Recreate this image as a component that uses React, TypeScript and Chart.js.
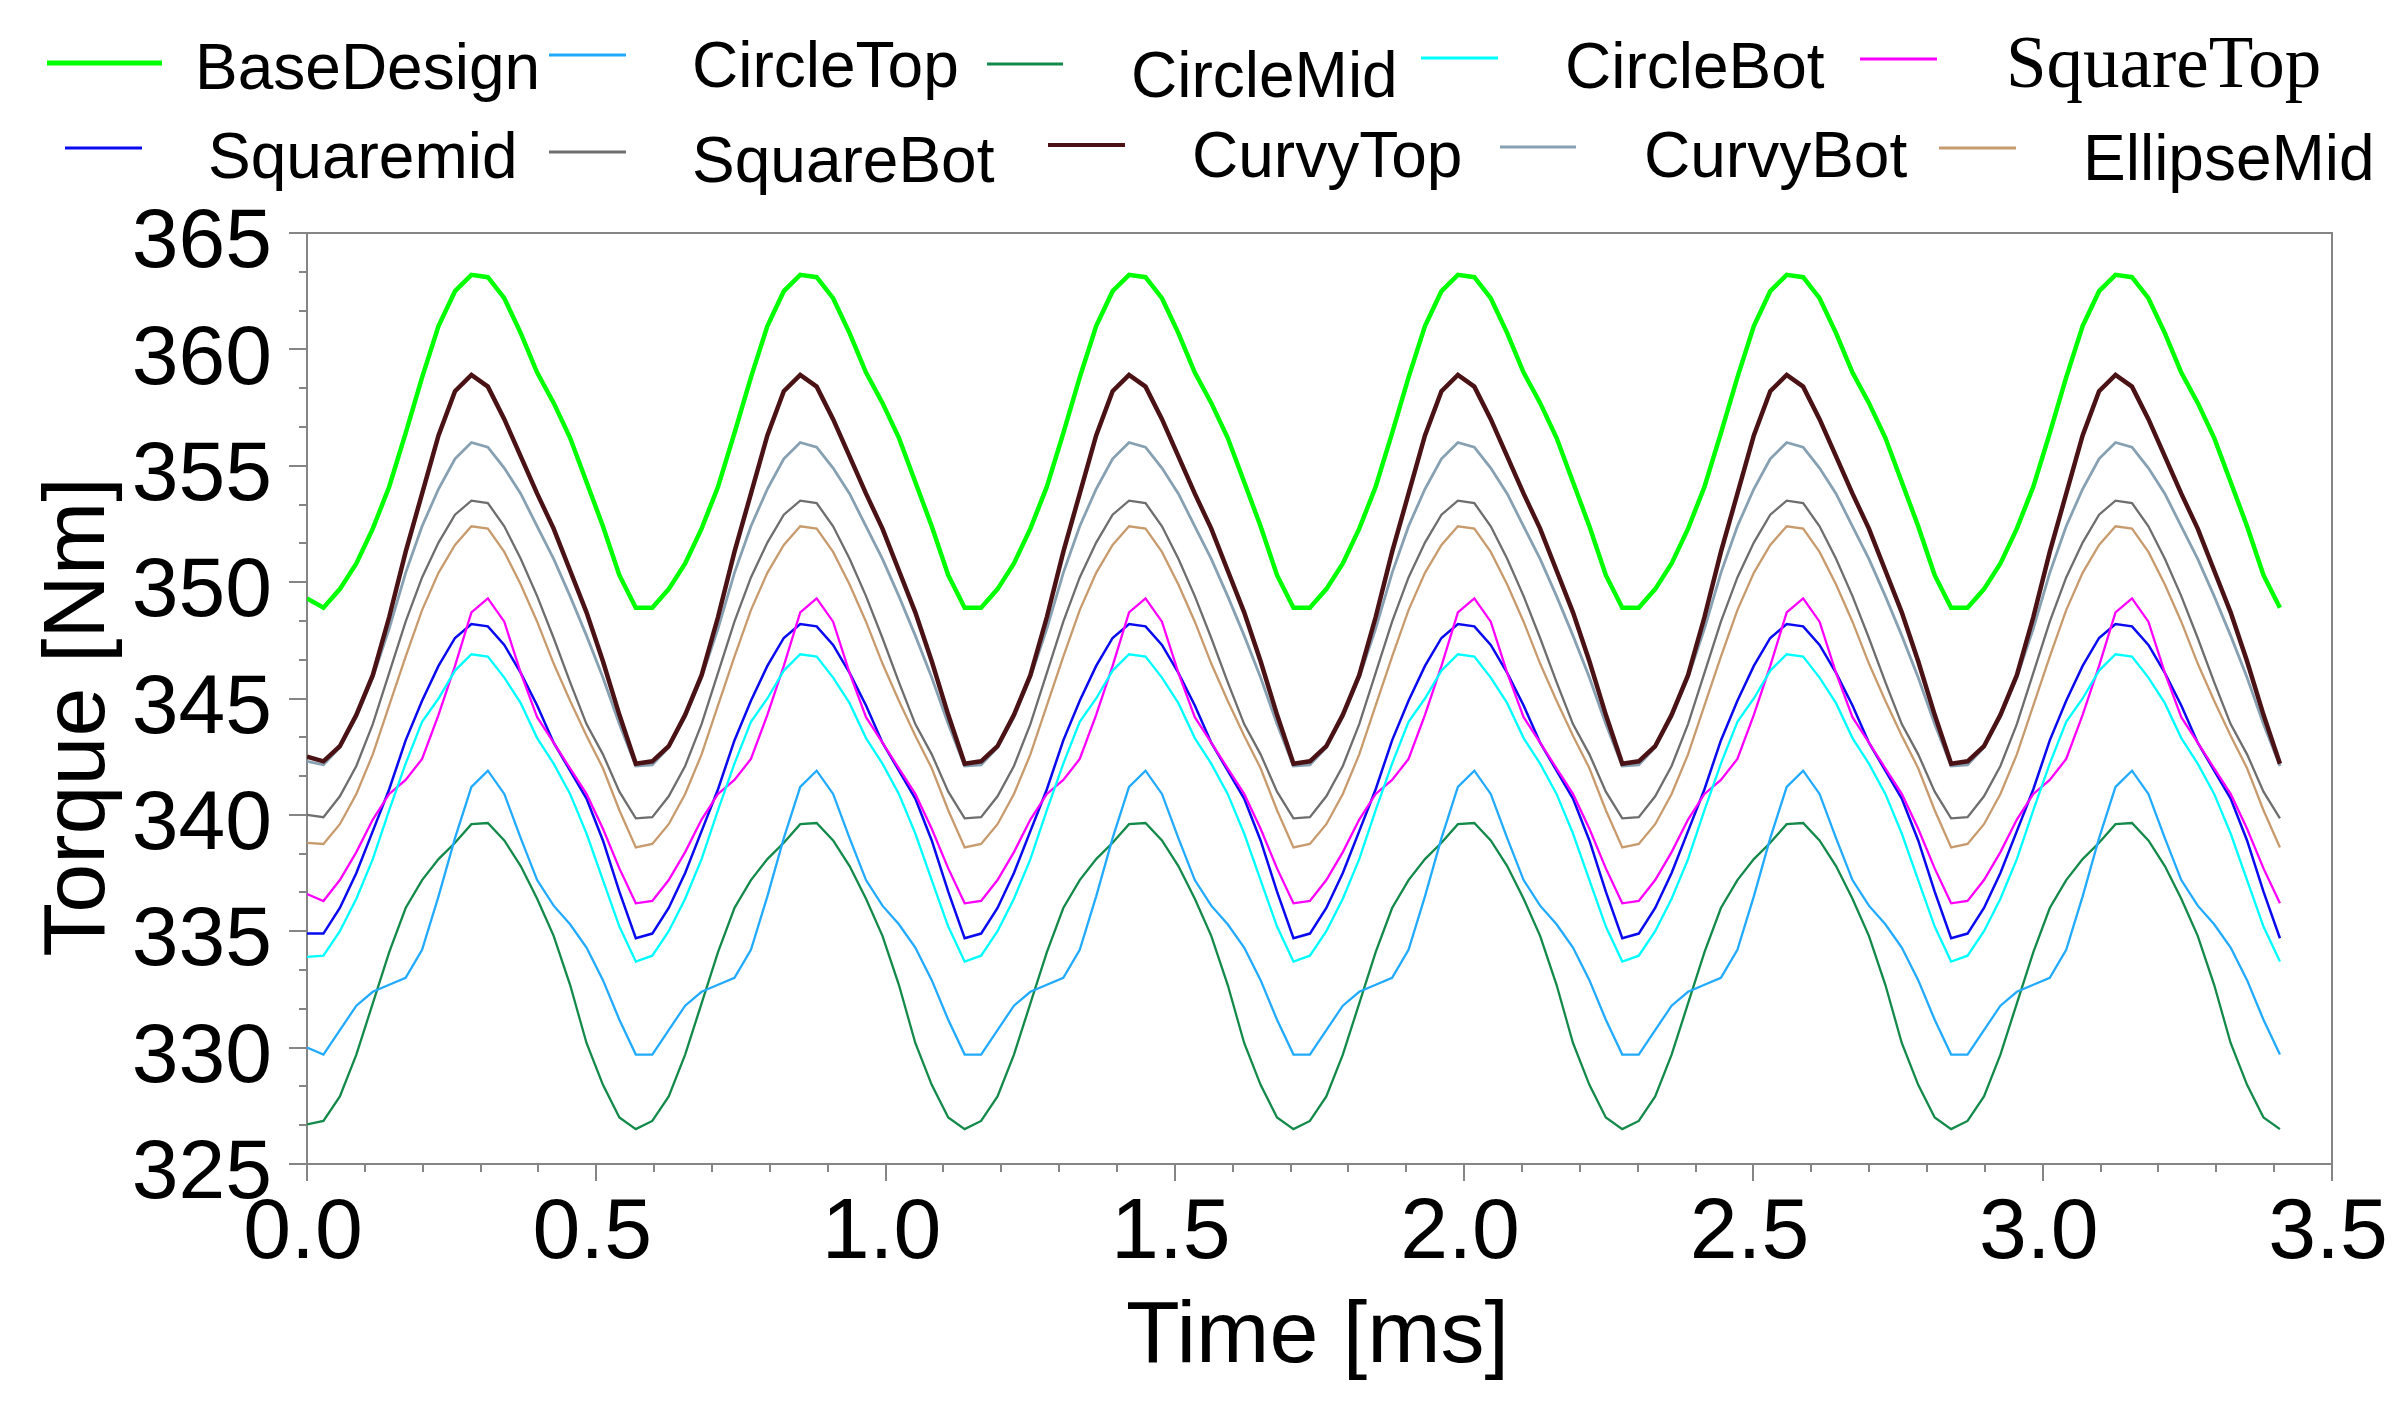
import React, { useEffect, useRef } from "react";
import { Chart, registerables } from "chart.js";

Chart.register(...registerables);

// ---------- data ----------
const TIME_MS = [
  0, 0.0284, 0.0568, 0.0853, 0.1137, 0.1421, 0.1705, 0.1989, 0.2273, 0.2558, 0.2842, 0.3126, 0.3410, 0.3694, 0.3978, 0.4263, 0.4547, 0.4831, 0.5115, 0.5399,
  0.5683, 0.5968, 0.6252, 0.6536, 0.6820, 0.7104, 0.7388, 0.7673, 0.7957, 0.8241, 0.8525, 0.8809, 0.9093, 0.9378, 0.9662, 0.9946, 1.0230, 1.0514, 1.0798, 1.1083,
  1.1367, 1.1651, 1.1935, 1.2219, 1.2503, 1.2788, 1.3072, 1.3356, 1.3640, 1.3924, 1.4208, 1.4493, 1.4777, 1.5061, 1.5345, 1.5629, 1.5913, 1.6198, 1.6482, 1.6766,
  1.7050, 1.7334, 1.7618, 1.7903, 1.8187, 1.8471, 1.8755, 1.9039, 1.9323, 1.9608, 1.9892, 2.0176, 2.0460, 2.0744, 2.1028, 2.1313, 2.1597, 2.1881, 2.2165, 2.2449,
  2.2733, 2.3018, 2.3302, 2.3586, 2.3870, 2.4154, 2.4438, 2.4723, 2.5007, 2.5291, 2.5575, 2.5859, 2.6143, 2.6428, 2.6712, 2.6996, 2.7280, 2.7564, 2.7848, 2.8133,
  2.8417, 2.8701, 2.8985, 2.9269, 2.9553, 2.9838, 3.0122, 3.0406, 3.0690, 3.0974, 3.1258, 3.1543, 3.1827, 3.2111, 3.2395, 3.2679, 3.2963, 3.3248, 3.3532, 3.3816,
  3.4100,
];

const BASE_DESIGN = [
  349.3,
  348.9, 349.7, 350.8, 352.3, 354.1, 356.4, 358.8, 361.0, 362.5, 363.2, 363.1, 362.2, 360.7, 359.0, 357.7, 356.2, 354.3, 352.4, 350.3, 348.9,
  348.9, 349.7, 350.8, 352.3, 354.1, 356.4, 358.8, 361.0, 362.5, 363.2, 363.1, 362.2, 360.7, 359.0, 357.7, 356.2, 354.3, 352.4, 350.3, 348.9,
  348.9, 349.7, 350.8, 352.3, 354.1, 356.4, 358.8, 361.0, 362.5, 363.2, 363.1, 362.2, 360.7, 359.0, 357.7, 356.2, 354.3, 352.4, 350.3, 348.9,
  348.9, 349.7, 350.8, 352.3, 354.1, 356.4, 358.8, 361.0, 362.5, 363.2, 363.1, 362.2, 360.7, 359.0, 357.7, 356.2, 354.3, 352.4, 350.3, 348.9,
  348.9, 349.7, 350.8, 352.3, 354.1, 356.4, 358.8, 361.0, 362.5, 363.2, 363.1, 362.2, 360.7, 359.0, 357.7, 356.2, 354.3, 352.4, 350.3, 348.9,
  348.9, 349.7, 350.8, 352.3, 354.1, 356.4, 358.8, 361.0, 362.5, 363.2, 363.1, 362.2, 360.7, 359.0, 357.7, 356.2, 354.3, 352.4, 350.3, 348.9,
];

const CIRCLE_TOP = [
  330.0,
  329.7, 330.75, 331.8, 332.4, 332.7, 333.0, 334.2, 336.5, 339.0, 341.2, 341.9, 340.9, 339.0, 337.2, 336.1, 335.3, 334.3, 332.9, 331.2, 329.7,
  329.7, 330.75, 331.8, 332.4, 332.7, 333.0, 334.2, 336.5, 339.0, 341.2, 341.9, 340.9, 339.0, 337.2, 336.1, 335.3, 334.3, 332.9, 331.2, 329.7,
  329.7, 330.75, 331.8, 332.4, 332.7, 333.0, 334.2, 336.5, 339.0, 341.2, 341.9, 340.9, 339.0, 337.2, 336.1, 335.3, 334.3, 332.9, 331.2, 329.7,
  329.7, 330.75, 331.8, 332.4, 332.7, 333.0, 334.2, 336.5, 339.0, 341.2, 341.9, 340.9, 339.0, 337.2, 336.1, 335.3, 334.3, 332.9, 331.2, 329.7,
  329.7, 330.75, 331.8, 332.4, 332.7, 333.0, 334.2, 336.5, 339.0, 341.2, 341.9, 340.9, 339.0, 337.2, 336.1, 335.3, 334.3, 332.9, 331.2, 329.7,
  329.7, 330.75, 331.8, 332.4, 332.7, 333.0, 334.2, 336.5, 339.0, 341.2, 341.9, 340.9, 339.0, 337.2, 336.1, 335.3, 334.3, 332.9, 331.2, 329.7,
];

const CIRCLE_MID = [
  326.7,
  326.85, 327.9, 329.7, 331.9, 334.1, 336.0, 337.2, 338.1, 338.8, 339.6, 339.65, 338.9, 337.8, 336.4, 334.8, 332.7, 330.2, 328.4, 327.0, 326.5,
  326.85, 327.9, 329.7, 331.9, 334.1, 336.0, 337.2, 338.1, 338.8, 339.6, 339.65, 338.9, 337.8, 336.4, 334.8, 332.7, 330.2, 328.4, 327.0, 326.5,
  326.85, 327.9, 329.7, 331.9, 334.1, 336.0, 337.2, 338.1, 338.8, 339.6, 339.65, 338.9, 337.8, 336.4, 334.8, 332.7, 330.2, 328.4, 327.0, 326.5,
  326.85, 327.9, 329.7, 331.9, 334.1, 336.0, 337.2, 338.1, 338.8, 339.6, 339.65, 338.9, 337.8, 336.4, 334.8, 332.7, 330.2, 328.4, 327.0, 326.5,
  326.85, 327.9, 329.7, 331.9, 334.1, 336.0, 337.2, 338.1, 338.8, 339.6, 339.65, 338.9, 337.8, 336.4, 334.8, 332.7, 330.2, 328.4, 327.0, 326.5,
  326.85, 327.9, 329.7, 331.9, 334.1, 336.0, 337.2, 338.1, 338.8, 339.6, 339.65, 338.9, 337.8, 336.4, 334.8, 332.7, 330.2, 328.4, 327.0, 326.5,
];

const CIRCLE_BOT = [
  333.9,
  333.95, 335.0, 336.4, 338.1, 340.2, 342.2, 344.0, 345.0, 346.2, 346.9, 346.8, 345.9, 344.8, 343.3, 342.2, 340.9, 339.2, 337.2, 335.2, 333.7,
  333.95, 335.0, 336.4, 338.1, 340.2, 342.2, 344.0, 345.0, 346.2, 346.9, 346.8, 345.9, 344.8, 343.3, 342.2, 340.9, 339.2, 337.2, 335.2, 333.7,
  333.95, 335.0, 336.4, 338.1, 340.2, 342.2, 344.0, 345.0, 346.2, 346.9, 346.8, 345.9, 344.8, 343.3, 342.2, 340.9, 339.2, 337.2, 335.2, 333.7,
  333.95, 335.0, 336.4, 338.1, 340.2, 342.2, 344.0, 345.0, 346.2, 346.9, 346.8, 345.9, 344.8, 343.3, 342.2, 340.9, 339.2, 337.2, 335.2, 333.7,
  333.95, 335.0, 336.4, 338.1, 340.2, 342.2, 344.0, 345.0, 346.2, 346.9, 346.8, 345.9, 344.8, 343.3, 342.2, 340.9, 339.2, 337.2, 335.2, 333.7,
  333.95, 335.0, 336.4, 338.1, 340.2, 342.2, 344.0, 345.0, 346.2, 346.9, 346.8, 345.9, 344.8, 343.3, 342.2, 340.9, 339.2, 337.2, 335.2, 333.7,
];

const SQUARE_TOP = [
  336.6,
  336.3, 337.2, 338.4, 339.8, 340.9, 341.5, 342.4, 344.3, 346.4, 348.7, 349.3, 348.3, 346.1, 344.2, 343.1, 342.0, 340.9, 339.4, 337.7, 336.2,
  336.3, 337.2, 338.4, 339.8, 340.9, 341.5, 342.4, 344.3, 346.4, 348.7, 349.3, 348.3, 346.1, 344.2, 343.1, 342.0, 340.9, 339.4, 337.7, 336.2,
  336.3, 337.2, 338.4, 339.8, 340.9, 341.5, 342.4, 344.3, 346.4, 348.7, 349.3, 348.3, 346.1, 344.2, 343.1, 342.0, 340.9, 339.4, 337.7, 336.2,
  336.3, 337.2, 338.4, 339.8, 340.9, 341.5, 342.4, 344.3, 346.4, 348.7, 349.3, 348.3, 346.1, 344.2, 343.1, 342.0, 340.9, 339.4, 337.7, 336.2,
  336.3, 337.2, 338.4, 339.8, 340.9, 341.5, 342.4, 344.3, 346.4, 348.7, 349.3, 348.3, 346.1, 344.2, 343.1, 342.0, 340.9, 339.4, 337.7, 336.2,
  336.3, 337.2, 338.4, 339.8, 340.9, 341.5, 342.4, 344.3, 346.4, 348.7, 349.3, 348.3, 346.1, 344.2, 343.1, 342.0, 340.9, 339.4, 337.7, 336.2,
];

const SQUARE_MID = [
  334.9,
  334.9, 336.0, 337.5, 339.3, 341.1, 343.2, 344.9, 346.4, 347.6, 348.2, 348.1, 347.3, 346.1, 344.7, 343.1, 341.9, 340.7, 338.9, 336.7, 334.7,
  334.9, 336.0, 337.5, 339.3, 341.1, 343.2, 344.9, 346.4, 347.6, 348.2, 348.1, 347.3, 346.1, 344.7, 343.1, 341.9, 340.7, 338.9, 336.7, 334.7,
  334.9, 336.0, 337.5, 339.3, 341.1, 343.2, 344.9, 346.4, 347.6, 348.2, 348.1, 347.3, 346.1, 344.7, 343.1, 341.9, 340.7, 338.9, 336.7, 334.7,
  334.9, 336.0, 337.5, 339.3, 341.1, 343.2, 344.9, 346.4, 347.6, 348.2, 348.1, 347.3, 346.1, 344.7, 343.1, 341.9, 340.7, 338.9, 336.7, 334.7,
  334.9, 336.0, 337.5, 339.3, 341.1, 343.2, 344.9, 346.4, 347.6, 348.2, 348.1, 347.3, 346.1, 344.7, 343.1, 341.9, 340.7, 338.9, 336.7, 334.7,
  334.9, 336.0, 337.5, 339.3, 341.1, 343.2, 344.9, 346.4, 347.6, 348.2, 348.1, 347.3, 346.1, 344.7, 343.1, 341.9, 340.7, 338.9, 336.7, 334.7,
];

const SQUARE_BOT = [
  340.0,
  339.9, 340.8, 342.1, 343.9, 346.1, 348.3, 350.2, 351.7, 352.9, 353.5, 353.4, 352.4, 351.0, 349.4, 347.6, 345.7, 343.9, 342.6, 341.0, 339.85,
  339.9, 340.8, 342.1, 343.9, 346.1, 348.3, 350.2, 351.7, 352.9, 353.5, 353.4, 352.4, 351.0, 349.4, 347.6, 345.7, 343.9, 342.6, 341.0, 339.85,
  339.9, 340.8, 342.1, 343.9, 346.1, 348.3, 350.2, 351.7, 352.9, 353.5, 353.4, 352.4, 351.0, 349.4, 347.6, 345.7, 343.9, 342.6, 341.0, 339.85,
  339.9, 340.8, 342.1, 343.9, 346.1, 348.3, 350.2, 351.7, 352.9, 353.5, 353.4, 352.4, 351.0, 349.4, 347.6, 345.7, 343.9, 342.6, 341.0, 339.85,
  339.9, 340.8, 342.1, 343.9, 346.1, 348.3, 350.2, 351.7, 352.9, 353.5, 353.4, 352.4, 351.0, 349.4, 347.6, 345.7, 343.9, 342.6, 341.0, 339.85,
  339.9, 340.8, 342.1, 343.9, 346.1, 348.3, 350.2, 351.7, 352.9, 353.5, 353.4, 352.4, 351.0, 349.4, 347.6, 345.7, 343.9, 342.6, 341.0, 339.85,
];

const CURVY_TOP = [
  342.5,
  342.3, 342.95, 344.3, 346.0, 348.5, 351.3, 353.8, 356.3, 358.2, 358.9, 358.4, 357.0, 355.4, 353.8, 352.3, 350.5, 348.7, 346.6, 344.3, 342.2,
  342.3, 342.95, 344.3, 346.0, 348.5, 351.3, 353.8, 356.3, 358.2, 358.9, 358.4, 357.0, 355.4, 353.8, 352.3, 350.5, 348.7, 346.6, 344.3, 342.2,
  342.3, 342.95, 344.3, 346.0, 348.5, 351.3, 353.8, 356.3, 358.2, 358.9, 358.4, 357.0, 355.4, 353.8, 352.3, 350.5, 348.7, 346.6, 344.3, 342.2,
  342.3, 342.95, 344.3, 346.0, 348.5, 351.3, 353.8, 356.3, 358.2, 358.9, 358.4, 357.0, 355.4, 353.8, 352.3, 350.5, 348.7, 346.6, 344.3, 342.2,
  342.3, 342.95, 344.3, 346.0, 348.5, 351.3, 353.8, 356.3, 358.2, 358.9, 358.4, 357.0, 355.4, 353.8, 352.3, 350.5, 348.7, 346.6, 344.3, 342.2,
  342.3, 342.95, 344.3, 346.0, 348.5, 351.3, 353.8, 356.3, 358.2, 358.9, 358.4, 357.0, 355.4, 353.8, 352.3, 350.5, 348.7, 346.6, 344.3, 342.2,
];

const CURVY_BOT = [
  342.3,
  342.15, 342.9, 344.2, 345.9, 348.0, 350.4, 352.4, 354.0, 355.3, 356.0, 355.8, 354.9, 353.8, 352.4, 351.0, 349.4, 347.7, 345.9, 343.9, 342.1,
  342.15, 342.9, 344.2, 345.9, 348.0, 350.4, 352.4, 354.0, 355.3, 356.0, 355.8, 354.9, 353.8, 352.4, 351.0, 349.4, 347.7, 345.9, 343.9, 342.1,
  342.15, 342.9, 344.2, 345.9, 348.0, 350.4, 352.4, 354.0, 355.3, 356.0, 355.8, 354.9, 353.8, 352.4, 351.0, 349.4, 347.7, 345.9, 343.9, 342.1,
  342.15, 342.9, 344.2, 345.9, 348.0, 350.4, 352.4, 354.0, 355.3, 356.0, 355.8, 354.9, 353.8, 352.4, 351.0, 349.4, 347.7, 345.9, 343.9, 342.1,
  342.15, 342.9, 344.2, 345.9, 348.0, 350.4, 352.4, 354.0, 355.3, 356.0, 355.8, 354.9, 353.8, 352.4, 351.0, 349.4, 347.7, 345.9, 343.9, 342.1,
  342.15, 342.9, 344.2, 345.9, 348.0, 350.4, 352.4, 354.0, 355.3, 356.0, 355.8, 354.9, 353.8, 352.4, 351.0, 349.4, 347.7, 345.9, 343.9, 342.1,
];

const ELLIPSE_MID = [
  338.8,
  338.75, 339.6, 340.9, 342.6, 344.7, 346.8, 348.8, 350.4, 351.6, 352.4, 352.3, 351.3, 349.9, 348.3, 346.5, 344.9, 343.4, 342.0, 340.2, 338.6,
  338.75, 339.6, 340.9, 342.6, 344.7, 346.8, 348.8, 350.4, 351.6, 352.4, 352.3, 351.3, 349.9, 348.3, 346.5, 344.9, 343.4, 342.0, 340.2, 338.6,
  338.75, 339.6, 340.9, 342.6, 344.7, 346.8, 348.8, 350.4, 351.6, 352.4, 352.3, 351.3, 349.9, 348.3, 346.5, 344.9, 343.4, 342.0, 340.2, 338.6,
  338.75, 339.6, 340.9, 342.6, 344.7, 346.8, 348.8, 350.4, 351.6, 352.4, 352.3, 351.3, 349.9, 348.3, 346.5, 344.9, 343.4, 342.0, 340.2, 338.6,
  338.75, 339.6, 340.9, 342.6, 344.7, 346.8, 348.8, 350.4, 351.6, 352.4, 352.3, 351.3, 349.9, 348.3, 346.5, 344.9, 343.4, 342.0, 340.2, 338.6,
  338.75, 339.6, 340.9, 342.6, 344.7, 346.8, 348.8, 350.4, 351.6, 352.4, 352.3, 351.3, 349.9, 348.3, 346.5, 344.9, 343.4, 342.0, 340.2, 338.6,
];

const SERIES_NAMES = [
  "BaseDesign", "CircleTop", "CircleMid", "CircleBot", "SquareTop",
  "Squaremid", "SquareBot", "CurvyTop", "CurvyBot", "EllipseMid",
];
const SERIES_VALUES = [
  BASE_DESIGN, CIRCLE_TOP, CIRCLE_MID, CIRCLE_BOT, SQUARE_TOP,
  SQUARE_MID, SQUARE_BOT, CURVY_TOP, CURVY_BOT, ELLIPSE_MID,
];

const X_TITLE = "Time [ms]";
const Y_TITLE = "Torque [Nm]";
const X_MIN = 0, X_MAX = 3.5, X_STEP = 0.5, X_MINOR = 0.1;
const Y_MIN = 325, Y_MAX = 365, Y_STEP = 5, Y_MINOR_PER_MAJOR = 3;

// ---------- styling / layout ----------
const W = 2404;
const H = 1412;
const PLOT = { left: 307, top: 233, right: 2332, bottom: 1164 };
const AXIS_COLOR = "#858585";
const SANS = '"Liberation Sans", Arial, sans-serif';
const SERIF = '"Liberation Serif", "Times New Roman", serif';

const STYLES = [
  { color: "#00ff00", width: 4.5 },
  { color: "#22aaff", width: 2.3 },
  { color: "#13894a", width: 2.3 },
  { color: "#00ffff", width: 2.3 },
  { color: "#ff00ff", width: 2.3 },
  { color: "#0a0af0", width: 2.5 },
  { color: "#6e6e6e", width: 2.3 },
  { color: "#4b1216", width: 4.5 },
  { color: "#87a0b2", width: 2.8 },
  { color: "#c89b6e", width: 2.3 },
];

const LEGEND_LAYOUT = [
  { x1: 47, x2: 162, y: 63, tx: 195, ty: 89, lw: 5, serif: false },
  { x1: 549, x2: 626, y: 55, tx: 692, ty: 87, lw: 3, serif: false },
  { x1: 987, x2: 1063, y: 64, tx: 1131, ty: 97, lw: 3, serif: false },
  { x1: 1421, x2: 1498, y: 58, tx: 1565, ty: 88, lw: 3, serif: false },
  { x1: 1860, x2: 1937, y: 59, tx: 2006, ty: 87, lw: 3, serif: true },
  { x1: 65, x2: 142, y: 148, tx: 208, ty: 178, lw: 3, serif: false },
  { x1: 549, x2: 626, y: 152, tx: 692, ty: 182, lw: 3, serif: false },
  { x1: 1048, x2: 1125, y: 145, tx: 1192, ty: 177, lw: 4, serif: false },
  { x1: 1500, x2: 1576, y: 147, tx: 1644, ty: 177, lw: 3, serif: false },
  { x1: 1939, x2: 2016, y: 148, tx: 2083, ty: 180, lw: 3, serif: false },
];

const decorPlugin = {
  id: "decor",
  afterDraw(chart: any) {
    const ctx = chart.ctx as CanvasRenderingContext2D;
    const { left, right, top, bottom } = chart.chartArea;
    const xs = chart.scales.x;
    const ys = chart.scales.y;
    ctx.save();
    ctx.strokeStyle = AXIS_COLOR;
    ctx.lineWidth = 2;
    ctx.beginPath();
    ctx.moveTo(left, top);
    ctx.lineTo(right, top);
    ctx.lineTo(right, bottom);
    ctx.stroke();

    // minor ticks
    ctx.beginPath();
    const nx = Math.round((X_MAX - X_MIN) / X_MINOR);
    const per = Math.round(X_STEP / X_MINOR);
    for (let k = 1; k < nx; k++) {
      if (k % per === 0) continue;
      const px = Math.round(xs.getPixelForValue(X_MIN + k * X_MINOR));
      ctx.moveTo(px, bottom);
      ctx.lineTo(px, bottom + 8);
    }
    const ny = Math.round((Y_MAX - Y_MIN) / Y_STEP) * Y_MINOR_PER_MAJOR;
    for (let k = 1; k < ny; k++) {
      if (k % Y_MINOR_PER_MAJOR === 0) continue;
      const py = Math.round(ys.getPixelForValue(Y_MIN + (k * Y_STEP) / Y_MINOR_PER_MAJOR));
      ctx.moveTo(left - 8, py);
      ctx.lineTo(left, py);
    }
    ctx.stroke();

    // axis titles
    ctx.fillStyle = "#000";
    ctx.font = `88px ${SANS}`;
    ctx.textAlign = "center";
    ctx.textBaseline = "alphabetic";
    ctx.fillText(X_TITLE, (left + right) / 2 - 2, 1362);
    ctx.save();
    ctx.translate(104, 717);
    ctx.rotate(-Math.PI / 2);
    ctx.fillText(Y_TITLE, 0, 0);
    ctx.restore();

    // legend
    ctx.textAlign = "left";
    LEGEND_LAYOUT.forEach((L, i) => {
      ctx.strokeStyle = STYLES[i].color;
      ctx.lineWidth = L.lw;
      ctx.beginPath();
      ctx.moveTo(L.x1, L.y);
      ctx.lineTo(L.x2, L.y);
      ctx.stroke();
      ctx.fillStyle = "#000";
      ctx.font = L.serif ? `73px ${SERIF}` : `64px ${SANS}`;
      ctx.fillText(SERIES_NAMES[i], L.tx, L.ty);
    });
    ctx.restore();
  },
};

export default function App() {
  const ref = useRef<HTMLCanvasElement | null>(null);
  useEffect(() => {
    document.body.style.margin = "0";
    const canvas = ref.current;
    if (!canvas) return;
    const chart = new Chart(canvas, {
      type: "line",
      data: {
        labels: TIME_MS,
        datasets: SERIES_VALUES.map((vals, i) => ({
          label: SERIES_NAMES[i],
          data: vals,
          borderColor: STYLES[i].color,
          backgroundColor: STYLES[i].color,
          borderWidth: STYLES[i].width,
          pointRadius: 0,
          tension: 0,
          fill: false,
        })),
      },
      options: {
        animation: false,
        responsive: false,
        events: [],
        layout: { padding: { left: 0, top: PLOT.top, right: W - PLOT.right, bottom: 0 } },
        plugins: { legend: { display: false }, tooltip: { enabled: false }, title: { display: false } },
        scales: {
          x: {
            type: "linear",
            min: X_MIN,
            max: X_MAX,
            afterFit: (s: any) => { s.height = H - PLOT.bottom; },
            ticks: {
              stepSize: X_STEP,
              autoSkip: false,
              maxRotation: 0,
              padding: 2,
              labelOffset: -4,
              color: "#000",
              font: { family: SANS, size: 86, lineHeight: 1.2 },
              callback: (v: any) => Number(v).toFixed(1),
            },
            grid: { drawOnChartArea: false, drawTicks: true, tickLength: 17, color: AXIS_COLOR, lineWidth: 2 },
            border: { display: true, color: AXIS_COLOR, width: 2 },
          },
          y: {
            type: "linear",
            min: Y_MIN,
            max: Y_MAX,
            afterFit: (s: any) => { s.width = PLOT.left; },
            ticks: {
              stepSize: Y_STEP,
              padding: 17,
              labelOffset: 11,
              color: "#000",
              font: { family: SANS, size: 84 },
            },
            grid: { drawOnChartArea: false, drawTicks: true, tickLength: 18, color: AXIS_COLOR, lineWidth: 2 },
            border: { display: true, color: AXIS_COLOR, width: 2 },
          },
        },
      },
      plugins: [decorPlugin],
    });
    return () => chart.destroy();
  }, []);
  return (
    <div style={{ width: W, height: H, background: "#fff" }}>
      <canvas ref={ref} width={W} height={H} style={{ display: "block", width: W, height: H }} />
    </div>
  );
}
